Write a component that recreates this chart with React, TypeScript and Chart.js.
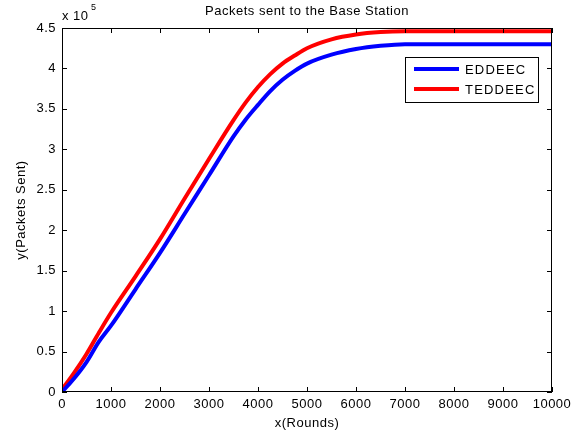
import React, { useEffect, useRef } from "react";
import { Chart, registerables } from "chart.js";

Chart.register(...registerables);

const rounds = [0, 250, 500, 750, 1000, 1500, 2000, 2500, 3000, 3500, 3750, 4000, 4250, 4500, 4750, 5000, 5500, 6000, 6500, 7000, 8000, 10000];
const eddeec = [0, 17000, 37000, 62000, 82000, 127000, 172000, 220000, 268000, 316000, 337000, 355000, 372000, 386000, 397000, 406000, 417000, 424000, 428000, 430000, 430000, 430000];
const teddeec = [3000, 24000, 47000, 73000, 98000, 143000, 189000, 239000, 288000, 336000, 358000, 377000, 393000, 406000, 416000, 425000, 436000, 442000, 445000, 446000, 446000, 446000];
const xTicks = [0, 1000, 2000, 3000, 4000, 5000, 6000, 7000, 8000, 9000, 10000];
const yTicks = [0, 50000, 100000, 150000, 200000, 250000, 300000, 350000, 400000, 450000];

const FONT = "'Liberation Sans', Arial, Helvetica, sans-serif";
const SP = "0.5px";

const framePlugin = {
  id: "matlabFrame",
  beforeDraw(chart: any) {
    (chart.ctx as any).letterSpacing = SP;
  },
  afterDraw(chart: any) {
    const { ctx, chartArea: a, scales } = chart;
    const xs = scales.x, ys = scales.y;
    ctx.save();
    (ctx as any).letterSpacing = SP;
    ctx.strokeStyle = "#000";
    ctx.lineWidth = 1;
    ctx.strokeRect(a.left + 0.5, a.top + 0.5, a.right - a.left - 1, a.bottom - a.top - 1);
    const tl = 5;
    ctx.beginPath();
    xTicks.forEach((v) => {
      const px = Math.round(xs.getPixelForValue(v)) + 0.5;
      ctx.moveTo(px, a.bottom);
      ctx.lineTo(px, a.bottom - tl);
      ctx.moveTo(px, a.top);
      ctx.lineTo(px, a.top + tl);
    });
    yTicks.forEach((v) => {
      const py = Math.round(ys.getPixelForValue(v)) + 0.5;
      ctx.moveTo(a.left, py);
      ctx.lineTo(a.left + tl, py);
      ctx.moveTo(a.right, py);
      ctx.lineTo(a.right - tl, py);
    });
    ctx.stroke();

    ctx.fillStyle = "#000";
    ctx.font = `13px ${FONT}`;
    ctx.textAlign = "center";
    ctx.textBaseline = "middle";
    ctx.fillText("Packets sent to the Base Station", (a.left + a.right) / 2, 11);
    ctx.fillText("x(Rounds)", (a.left + a.right) / 2, 423);
    ctx.save();
    ctx.translate(21, (a.top + a.bottom) / 2);
    ctx.rotate(-Math.PI / 2);
    ctx.fillText("y(Packets Sent)", 0, 0);
    ctx.restore();
    ctx.textAlign = "left";
    ctx.fillText("x 10", 62, 16);
    ctx.font = `9px ${FONT}`;
    ctx.fillText("5", 91, 8);

    const bx = 405, by = 57, bw = 133, bh = 45;
    ctx.fillStyle = "#fff";
    ctx.fillRect(bx, by, bw, bh);
    ctx.strokeStyle = "#000";
    ctx.lineWidth = 1;
    ctx.strokeRect(bx + 0.5, by + 0.5, bw, bh);
    chart.data.datasets.forEach((ds: any, i: number) => {
      const y = 69 + i * 20;
      ctx.strokeStyle = ds.borderColor;
      ctx.lineWidth = 4;
      ctx.beginPath();
      ctx.moveTo(414, y);
      ctx.lineTo(459, y);
      ctx.stroke();
      ctx.fillStyle = "#000";
      ctx.font = `13px ${FONT}`;
      ctx.textAlign = "left";
      ctx.textBaseline = "middle";
      (ctx as any).letterSpacing = "1.2px";
      ctx.fillText(ds.label, 465, y + 1);
      (ctx as any).letterSpacing = SP;
    });
    ctx.restore();
  },
};

export default function App() {
  const ref = useRef<HTMLCanvasElement>(null);
  useEffect(() => {
    const chart = new Chart(ref.current!, {
      type: "line",
      data: {
        datasets: [
          {
            label: "EDDEEC",
            data: rounds.map((r, i) => ({ x: r, y: eddeec[i] })),
            borderColor: "#0000ff",
            borderWidth: 4,
            pointRadius: 0,
            cubicInterpolationMode: "monotone",
          },
          {
            label: "TEDDEEC",
            data: rounds.map((r, i) => ({ x: r, y: teddeec[i] })),
            borderColor: "#ff0000",
            borderWidth: 4,
            pointRadius: 0,
            cubicInterpolationMode: "monotone",
          },
        ],
      },
      options: {
        animation: false,
        responsive: false,
        maintainAspectRatio: false,
        layout: { padding: { top: 28, right: 33, left: 0, bottom: 0 } },
        plugins: { legend: { display: false }, title: { display: false }, tooltip: { enabled: false } },
        scales: {
          x: {
            type: "linear",
            min: 0,
            max: 10000,
            afterFit: (s: any) => { s.height = 43; },
            afterBuildTicks: (s: any) => { s.ticks = xTicks.map((v) => ({ value: v })); },
            grid: { display: false, drawTicks: false },
            border: { display: false },
            ticks: {
              autoSkip: false,
              maxRotation: 0,
              padding: 5,
              color: "#000",
              font: { family: FONT, size: 13 },
              callback: (v: any) => String(v),
            },
          },
          y: {
            type: "linear",
            min: 0,
            max: 450000,
            afterFit: (s: any) => { s.width = 62; },
            afterBuildTicks: (s: any) => { s.ticks = yTicks.map((v) => ({ value: v })); },
            grid: { display: false, drawTicks: false },
            border: { display: false },
            ticks: {
              padding: 6,
              color: "#000",
              font: { family: FONT, size: 13 },
              callback: (v: any) => String(Number(v) / 100000),
            },
          },
        },
      },
      plugins: [framePlugin],
    } as any);
    return () => chart.destroy();
  }, []);
  return (
    <div style={{ position: "fixed", left: 0, top: 0, width: 585, height: 435, background: "#fff" }}>
      <canvas ref={ref} width={585} height={435} style={{ display: "block" }} />
    </div>
  );
}
